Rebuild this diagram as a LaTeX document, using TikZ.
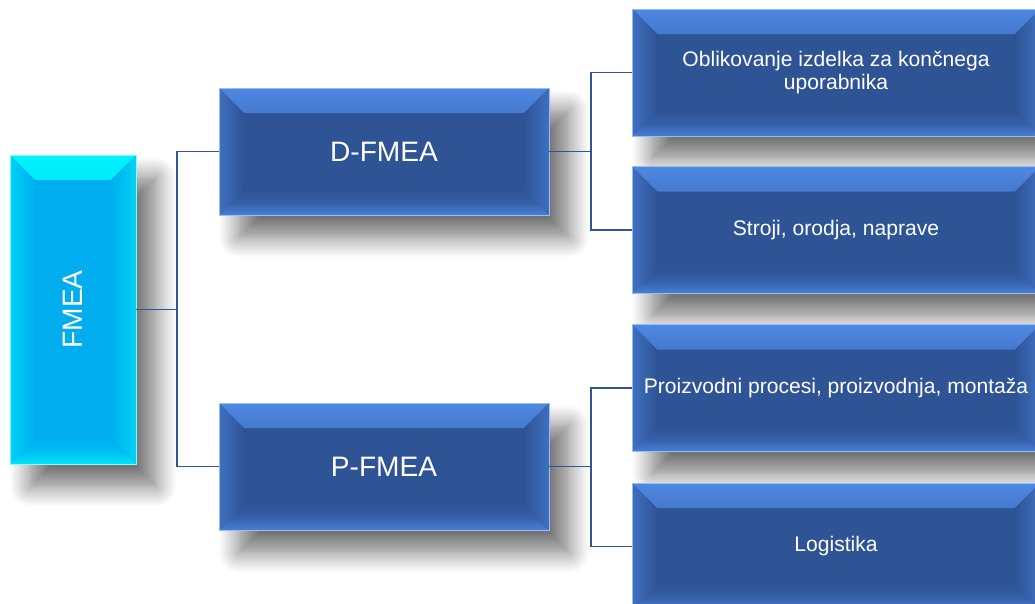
\documentclass[tikz,border=0pt]{standalone}
\usepackage{fontspec}
\setmainfont{Liberation Sans}
\usepackage{graphicx}
\usetikzlibrary{shadows.blur}

\definecolor{boxblue}{RGB}{46,84,150}
\definecolor{edgeblue}{RGB}{84,145,240}
\definecolor{fmeacyan}{RGB}{0,174,239}
\definecolor{edgecyan}{RGB}{0,255,255}
\definecolor{linkblue}{RGB}{47,85,151}

\tikzset{
  bevel/.style 2 args={path picture={
      \def\bw{0.5cm}
      % top and bottom bands
      \shade[top color=#1!85!#2, bottom color=#2, middle color=#1!25!#2]
        (path picture bounding box.north west) -- (path picture bounding box.north east)
        -- ([xshift=-\bw,yshift=-\bw]path picture bounding box.north east)
        -- ([xshift=\bw,yshift=-\bw]path picture bounding box.north west) -- cycle;
      \shade[top color=#2, bottom color=#1!70!#2, middle color=#1!20!#2]
        (path picture bounding box.south west) -- (path picture bounding box.south east)
        -- ([xshift=-\bw,yshift=\bw]path picture bounding box.south east)
        -- ([xshift=\bw,yshift=\bw]path picture bounding box.south west) -- cycle;
      % side bands
      \shade[left color=#1!45!#2, right color=#2]
        (path picture bounding box.north west) -- ([xshift=\bw,yshift=-\bw]path picture bounding box.north west)
        -- ([xshift=\bw,yshift=\bw]path picture bounding box.south west)
        -- (path picture bounding box.south west) -- cycle;
      \shade[left color=#2, right color=#1!45!#2]
        (path picture bounding box.north east) -- ([xshift=-\bw,yshift=-\bw]path picture bounding box.north east)
        -- ([xshift=-\bw,yshift=\bw]path picture bounding box.south east)
        -- (path picture bounding box.south east) -- cycle;
    }},
  shade box/.style={blur shadow={shadow xshift=0.4cm, shadow yshift=-0.45cm,
      shadow blur radius=0.4cm, shadow blur steps=12, shadow opacity=55}},
  fmea/.style={rectangle, draw=edgecyan!50!white, line width=0.4pt, fill=fmeacyan,
      minimum width=2.52cm, minimum height=6.18cm, text=white,
      font=\fontsize{16}{19}\selectfont, bevel={edgecyan}{fmeacyan}, shade box},
  module/.style={rectangle, draw=edgeblue!60!white, line width=0.4pt, fill=boxblue,
      minimum width=6.6cm, minimum height=2.54cm, text=white, align=center,
      font=\fontsize{16}{19}\selectfont, bevel={edgeblue}{boxblue}, shade box},
  leaf/.style={module, minimum width=8.16cm, font=\fontsize{12}{13}\selectfont},
  link/.style={draw=linkblue, line width=1.1pt}
}

\begin{document}
\begin{tikzpicture}
  \useasboundingbox (0,0) rectangle (20.7,-12.06);
  \clip (0,0) rectangle (20.7,-12.06);

  \node[fmea] (fmea) at (1.46,-6.19) {\rotatebox{90}{FMEA}};

  \node[module] (dfmea) at (7.68,-3.03) {D-FMEA};
  \node[module] (pfmea) at (7.68,-9.33) {P-FMEA};

  \node[leaf] (oblik) at (16.72,-1.45) {Oblikovanje izdelka za končnega\\uporabnika};
  \node[leaf] (stroji) at (16.72,-4.6) {Stroji, orodja, naprave};
  \node[leaf] (proces) at (16.72,-7.76) {Proizvodni procesi, proizvodnja, montaža};
  \node[leaf] (logist) at (16.72,-10.93) {Logistika};

  \draw[link] (fmea.east) -- ++(0.82,0) |- (dfmea.west);
  \draw[link] (fmea.east) -- ++(0.82,0) |- (pfmea.west);
  \draw[link] (dfmea.east) -- ++(0.84,0) |- (oblik.west);
  \draw[link] (dfmea.east) -- ++(0.84,0) |- (stroji.west);
  \draw[link] (pfmea.east) -- ++(0.84,0) |- (proces.west);
  \draw[link] (pfmea.east) -- ++(0.84,0) |- (logist.west);
\end{tikzpicture}
\end{document}
